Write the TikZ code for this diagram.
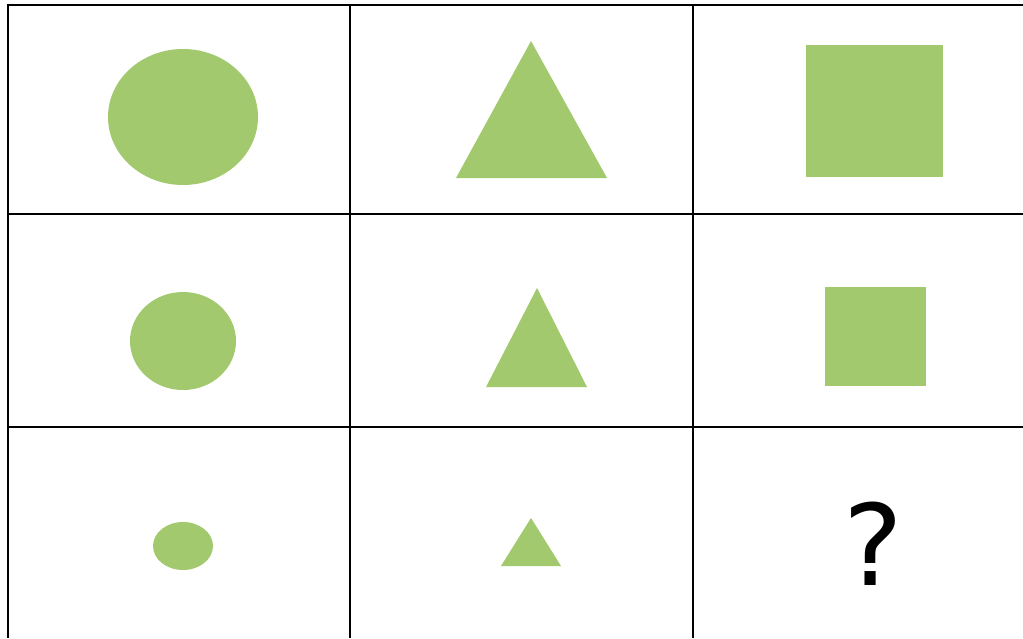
\documentclass[tikz,border=0pt]{standalone}
\usepackage{fontspec}
\newfontfamily\qfont{DejaVu Sans}
\definecolor{figgreen}{RGB}{162,201,110}

\begin{document}
\begin{tikzpicture}[
					x=0.025cm, y=-0.025cm,
					grid/.style={line width=1.45pt, black},
					figure/.style={fill=figgreen, draw=none}
				]
				% Marco de la imagen
				\useasboundingbox (0,0) rectangle (1023,638);

				% --- Rejilla ---
				\foreach \x in {8,350,693}
					\draw[grid] (\x,5) -- (\x,638);
				\foreach \y in {5,214,427}
					\draw[grid] (7,\y) -- (1023,\y);

				% --- Fila 1 ---
				\fill[figure] (183,117) ellipse [x radius=75, y radius=68];
				\fill[figure] (531,41) -- (607,178) -- (456,178) -- cycle;
				\fill[figure] (806,45) rectangle (943,177);

				% --- Fila 2 ---
				\fill[figure] (183,341) ellipse [x radius=53, y radius=49];
				\fill[figure] (537,288) -- (587,387) -- (486,387) -- cycle;
				\fill[figure] (825,287) rectangle (926,386);

				% --- Fila 3 ---
				\fill[figure] (183,546) ellipse [x radius=30, y radius=24];
				\fill[figure] (531,518) -- (561,566) -- (501,566) -- cycle;
				\node[inner sep=0pt] (pregunta) at (873,544) {\qfont\fontsize{80}{96}\selectfont ?};

			\end{tikzpicture}
\end{document}
